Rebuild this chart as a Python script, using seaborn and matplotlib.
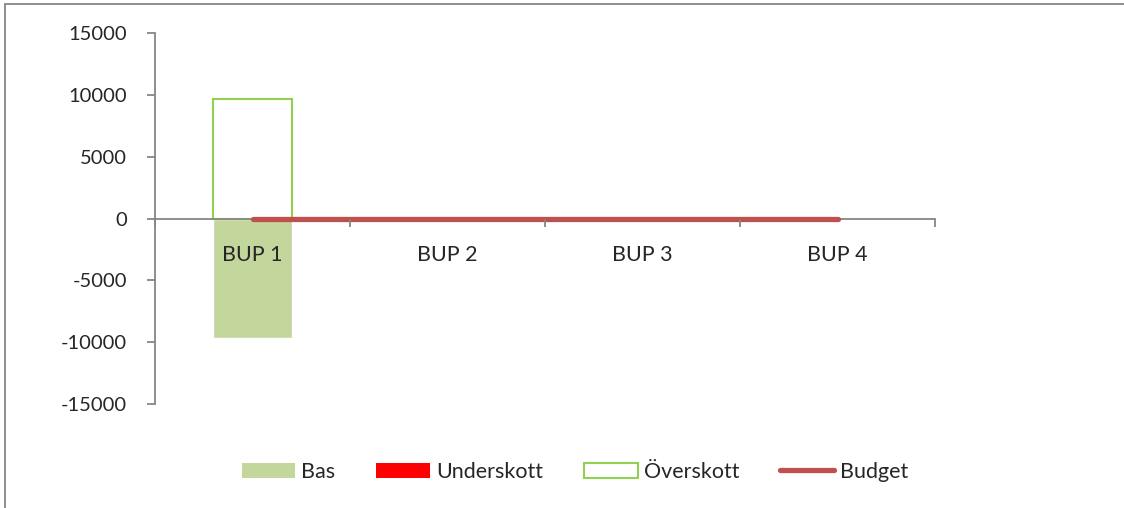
import numpy as np
import pandas as pd
import matplotlib
matplotlib.use('Agg')
import matplotlib.pyplot as plt
import seaborn as sns
from matplotlib.patches import Patch, Rectangle
from matplotlib.lines import Line2D

# chart data
categories = ['BUP 1', 'BUP 2', 'BUP 3', 'BUP 4']
bas = [-9700, 0, 0, 0]
underskott = [0, 0, 0, 0]
overskott = [9700, 0, 0, 0]
budget = [0, 0, 0, 0]
y_ticks = [-15000, -10000, -5000, 0, 5000, 10000, 15000]

C_BAS = '#C3D69B'
C_UNDER = '#FF0000'
C_OVER = '#92D050'
C_BUDGET = '#C0504D'
C_AXIS = '#868686'

sns.set_style('white')
plt.rcParams['font.family'] = ['Lato', 'DejaVu Sans']

df = pd.DataFrame({'cat': categories, 'bas': bas, 'under': underskott,
                   'over': overskott, 'budget': budget})

fig = plt.figure(figsize=(11.24, 5.08), dpi=100)
ax = fig.add_axes([155 / 1124, 1 - 404 / 508, 780 / 1124, 371 / 508])

bw = 0.405
sns.barplot(data=df, x='cat', y='bas', color=C_BAS, width=bw, saturation=1, ax=ax, errorbar=None)
sns.barplot(data=df, x='cat', y='under', color=C_UNDER, width=bw, saturation=1, ax=ax, errorbar=None)
sns.barplot(data=df, x='cat', y='over', width=bw, ax=ax, errorbar=None,
            facecolor='none', edgecolor=C_OVER, linewidth=1.5)
# Excel draws nothing for zero-height bars
for p in ax.patches:
    if p.get_height() == 0:
        p.set_visible(False)
sns.lineplot(data=df, x='cat', y='budget', color=C_BUDGET, linewidth=3.8,
             solid_capstyle='round', ax=ax, zorder=4)

ax.set_xlim(-0.5, 3.5)
ax.set_ylim(-15000, 15000)
ax.set_xlabel('')
ax.set_ylabel('')

# spines like the Excel chart
for s in ['top', 'right']:
    ax.spines[s].set_visible(False)
ax.spines['bottom'].set_position(('data', 0))
ax.spines['bottom'].set_color(C_AXIS)
ax.spines['left'].set_color(C_AXIS)
ax.spines['bottom'].set_linewidth(1.3)
ax.spines['left'].set_linewidth(1.3)
ax.spines['bottom'].set_zorder(3)

ax.set_yticks(y_ticks)
ax.set_yticklabels([str(v) for v in y_ticks])
ax.tick_params(axis='y', direction='out', length=6, width=1.3, color=C_AXIS,
               labelsize=14.5, pad=14, left=True)

# boundary ticks major, category labels on minor ticks
ax.set_xticks(np.arange(-0.5, 4, 1))
ax.set_xticklabels([])
ax.set_xticks(range(len(categories)), minor=True)
ax.set_xticklabels(categories, minor=True)
ax.tick_params(axis='x', which='major', direction='out', length=6, width=1.3,
               color=C_AXIS, bottom=True)
ax.tick_params(axis='x', which='minor', length=0, labelsize=15.5, pad=19)
ax.xaxis.set_zorder(5)

handles = [
    Patch(facecolor=C_BAS, edgecolor='none', label='Bas'),
    Patch(facecolor=C_UNDER, edgecolor='none', label='Underskott'),
    Patch(facecolor='white', edgecolor=C_OVER, linewidth=1.5, label='Överskott'),
    Line2D([0], [0], color=C_BUDGET, linewidth=3.8, solid_capstyle='round', label='Budget'),
]
fig.legend(handles=handles, loc='center', bbox_to_anchor=(575 / 1124, 1 - 472 / 508),
           ncol=4, frameon=False, fontsize=15.5, handlelength=2.5, handleheight=0.7,
           handletextpad=0.28, columnspacing=1.9)

# outer chart-area border
fig.patches.append(Rectangle((5 / 1124, -0.1), 1.2, 1.1 - 4 / 508,
                             transform=fig.transFigure, fill=False,
                             edgecolor=C_AXIS, linewidth=1.3))

fig.savefig('out.png', dpi=100)
